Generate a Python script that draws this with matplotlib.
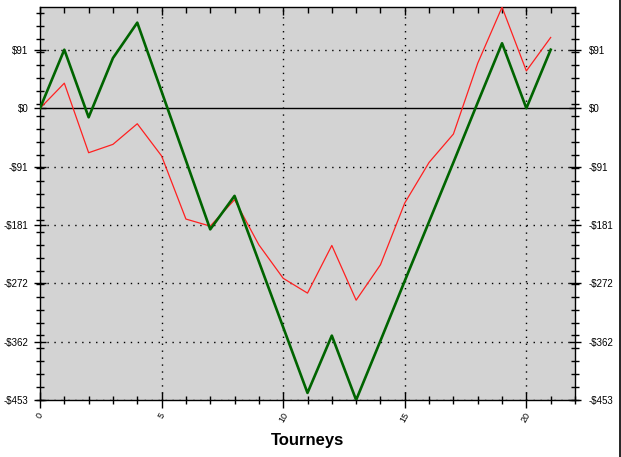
import matplotlib
matplotlib.use("Agg")
import matplotlib.pyplot as plt
import matplotlib.markers as mmarkers
from matplotlib.ticker import FixedLocator
from matplotlib.lines import Line2D

tourneys = list(range(22))
green_vals = [0, 91, -14, 78, 133, 26, -81, -188, -136, -238, -340, -442,
              -353, -453, -361, -268, -176, -84, 9, 101, 0, 91]
red_vals = [0, 39, -69, -56, -24, -74, -172, -183, -142, -212, -264, -287,
            -213, -298, -243, -147, -84, -40, 70, 157, 58, 110]
ytick_labels = ["-$453", "-$362", "-$272", "-$181", "-$91", "$0", "$91"]
xtick_vals = [0, 5, 10, 15, 20]

plt.rcParams['font.family'] = ['Liberation Sans', 'DejaVu Sans']

fig = plt.figure(figsize=(6.21, 4.57), dpi=100)
ax = fig.add_axes([40/621, 1-400/457, (575-40)/621, (400-7)/457])
ax.set_facecolor('#d3d3d3')

step = 453/5
yt = [k*step for k in range(-5, 2)]
ymin, ymax = -453, 157.3
ax.set_xlim(0, 22)
ax.set_ylim(ymin, ymax)

for v in xtick_vals[1:]:
    ax.axvline(v, color='black', lw=1.0, ls=(0, (1, 4)), zorder=1)
for v in yt:
    if abs(v) > 1e-9:
        ax.axhline(v, color='black', lw=1.0, ls=(0, (1, 4)), zorder=1)
ax.axhline(0, color='black', lw=1.0, zorder=1)

ax.plot(tourneys, red_vals, color='#ff2020', lw=0.9, zorder=3)
ax.plot(tourneys, green_vals, color='#006400', lw=1.9, zorder=4)

ax.set_yticks(yt)
ax.set_yticklabels(ytick_labels)
ax.yaxis.set_minor_locator(FixedLocator([7.3 + 20*k for k in range(-23, 8)]))
ax.set_xticks(xtick_vals)
ax.set_xticklabels([str(v) for v in xtick_vals], rotation=60, fontsize=6.5)
ax.xaxis.set_minor_locator(FixedLocator(list(range(0, 23))))

# right-hand labels
ax2 = ax.twinx()
ax2.set_ylim(ymin, ymax)
ax2.set_yticks(yt)
ax2.set_yticklabels(ytick_labels)
ax2.tick_params(axis='y', which='both', length=0, labelsize=7, pad=10)
for s in ax2.spines.values():
    s.set_visible(False)

ax.tick_params(axis='y', which='major', direction='inout', length=9, width=1,
               labelsize=7, left=True, right=True, labelleft=True, labelright=False, pad=4)
ax.tick_params(axis='y', which='minor', direction='inout', length=6, width=1,
               left=True, right=True)
ax.tick_params(axis='x', which='major', direction='inout', length=12, width=1,
               bottom=True, top=True, pad=2)
ax.tick_params(axis='x', which='minor', direction='inout', length=6, width=1,
               bottom=True, top=True)
for lab in ax.get_xticklabels():
    lab.set_ha('center')

for t in ax.xaxis.get_major_ticks():
    t.tick2line.set_marker(mmarkers.TICKDOWN)
    t.tick2line.set_markersize(6)
for t in ax.xaxis.get_minor_ticks():
    t.tick2line.set_marker(mmarkers.TICKDOWN)
    t.tick2line.set_markersize(4)

for s in ax.spines.values():
    s.set_linewidth(1)

ax.set_xlabel('Tourneys', fontsize=12, fontweight='bold', labelpad=6)

fig.add_artist(Line2D([619.5/621, 619.5/621], [0, 1], color='black', lw=1.2,
                      transform=fig.transFigure))

fig.savefig('out.png', dpi=100)
